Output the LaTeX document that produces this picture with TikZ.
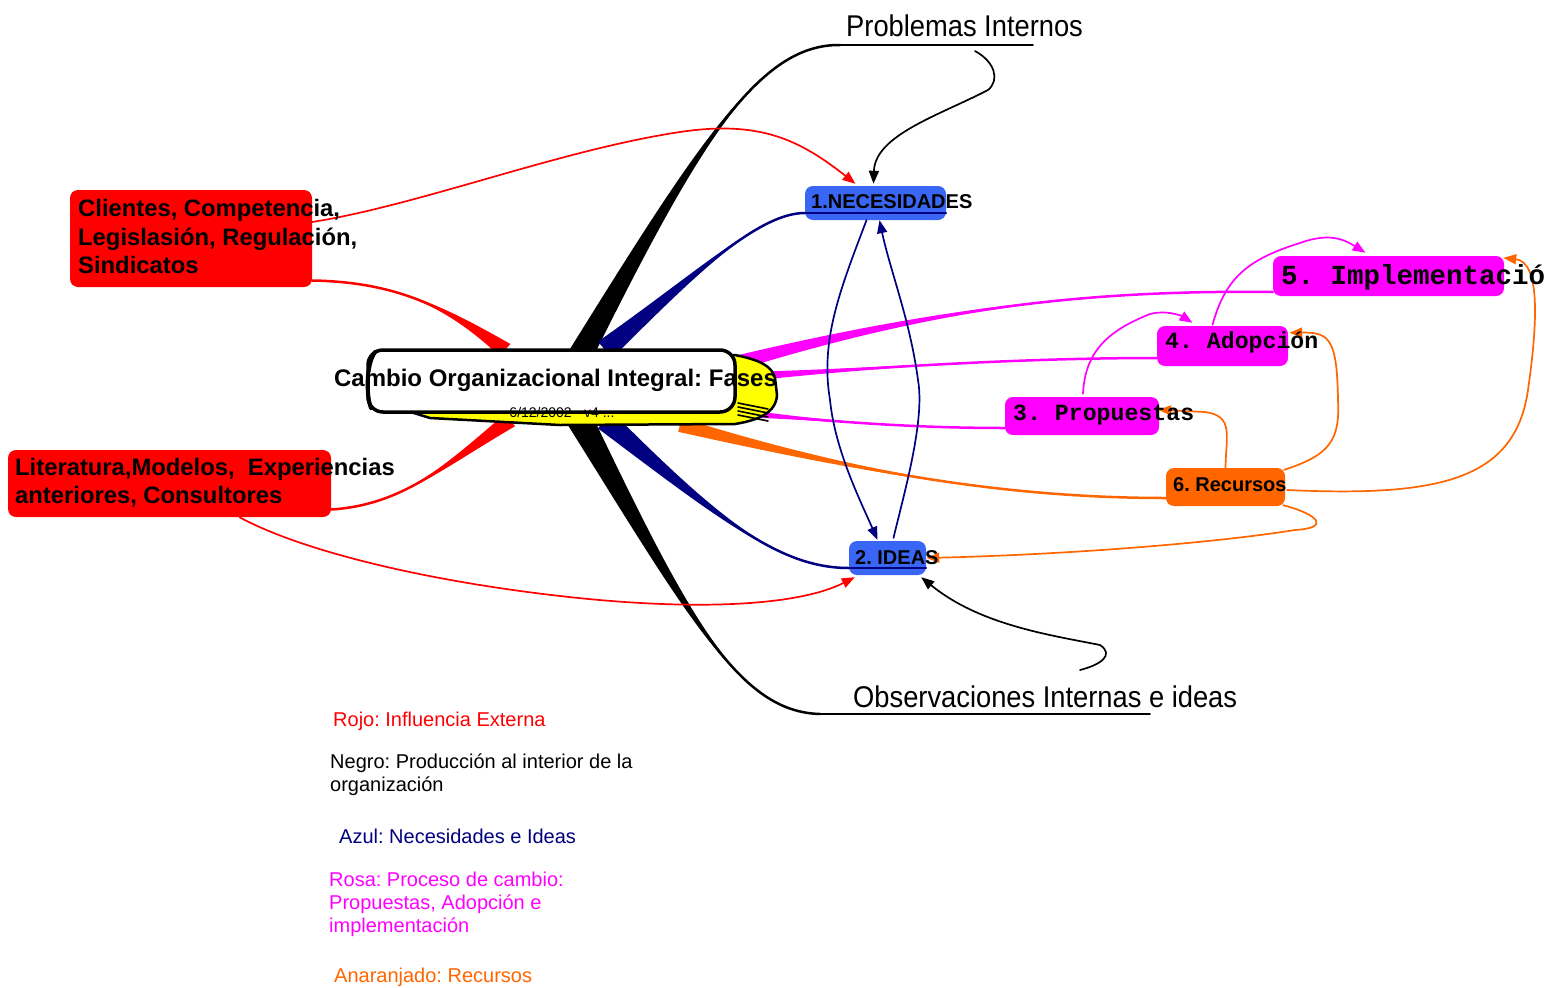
\documentclass[tikz,border=0pt]{standalone}
\usepackage{fontspec}
\setmainfont{Liberation Sans}
\newfontfamily\narrowfont{Liberation Sans}[FakeStretch=0.91]
\newfontfamily\monofont{Liberation Mono}
\usetikzlibrary{calc,arrows.meta}
\frenchspacing

\definecolor{cRed}{HTML}{FF0000}
\definecolor{cNavy}{HTML}{000080}
\definecolor{cBlue}{HTML}{3A66F5}
\definecolor{cPink}{HTML}{FF00FF}
\definecolor{cOrange}{HTML}{FF6600}
\definecolor{cYellow}{HTML}{FFFF00}

\tikzset{
  box/.style={rounded corners=8pt, inner sep=0pt, draw=none},
  lbl/.style={inner sep=0pt, anchor=base west},
  link/.style={line width=1.7pt, -{Triangle[length=13pt,width=10pt]}},
  boldlbl/.style={lbl, font=\bfseries\fontsize{20}{23}\selectfont},
  monolbl/.style={lbl, font=\monofont\bfseries\fontsize{23.2}{26}\selectfont},
  legend/.style={lbl, font=\fontsize{20}{23}\selectfont},
}

% tapered branch: colour, thin end, control 1, control 2, thick end, half-width vector
\newcommand\ribbon[6]{%
  \fill[#1] (#2) .. controls (#3) and (#4) .. ($(#5)+(#6)$) -- ($(#5)-(#6)$) .. controls (#4) and (#3) .. (#2);
  \draw[#1, line width=2.5pt] (#2) .. controls (#3) and (#4) .. (#5);
}

\begin{document}
\begin{tikzpicture}[x=1pt, y=-1pt, line join=round, line cap=round]
\useasboundingbox (0,0) rectangle (1561,988);

% ---- topic boxes ----
\node[box, fill=cRed, minimum width=242pt, minimum height=97pt] (cli) at (191,238.5) {};
\node[box, fill=cRed, minimum width=323pt, minimum height=67pt] (lit) at (169.5,483.5) {};
\node[box, fill=cBlue, minimum width=141pt, minimum height=34pt] (nec) at (875.5,203) {};
\node[box, fill=cBlue, minimum width=77pt, minimum height=34pt] (ide) at (887.5,558) {};
\node[box, fill=cPink, minimum width=154pt, minimum height=38pt] (pro) at (1082,416) {};
\node[box, fill=cPink, minimum width=131pt, minimum height=40pt] (ado) at (1222.5,346) {};
\node[box, fill=cPink, minimum width=231pt, minimum height=40pt] (imp) at (1388.5,276) {};
\node[box, fill=cOrange, minimum width=119pt, minimum height=38pt] (rec) at (1225.5,487) {};

% ---- anchor points of the branches ----
\coordinate (probL) at (840,45);
\coordinate (probR) at (1033,45);
\coordinate (obsL) at (820,714);
\coordinate (obsR) at (1150,714);
\coordinate (hubRedA) at (505,350);
\coordinate (hubRedB) at (510,420);
\coordinate (hubBlkA) at (575,365);
\coordinate (hubBlkB) at (580,420);
\coordinate (hubNavA) at (605,350);
\coordinate (hubNavB) at (605,420);
\coordinate (hubImp) at (740,362);
\coordinate (hubAdo) at (740,377);
\coordinate (hubPro) at (740,413);
\coordinate (hubRec) at (680,425);

% ---- thick branches from the central topic ----
\ribbon{cRed}{$(cli.east)+(0,42)$}{400,282}{450,310}{hubRedA}{5.4,-6}
\ribbon{cRed}{$(lit.east)+(0,26)$}{400,505}{440,470}{hubRedB}{5,6.2}
\ribbon{black}{probL}{760,44}{700,140}{hubBlkA}{11,6.4}
\ribbon{black}{obsL}{740,712}{690,620}{hubBlkB}{11.4,-6.2}
\ribbon{cNavy}{$(nec.west)+(0,10)$}{760,213}{700,270}{hubNavA}{7,8.4}
\ribbon{cNavy}{$(ide.west)+(0,10)$}{780,568}{720,520}{hubNavB}{7,-8.4}
\ribbon{cPink}{$(imp.west)+(0,16)$}{1100,290}{950,305}{hubImp}{1.4,7}
\ribbon{cPink}{$(ado.west)+(0,12)$}{1000,358}{850,370}{hubAdo}{0,5}
\ribbon{cPink}{$(pro.west)+(0,12)$}{900,428}{820,420}{hubPro}{0,4}
\ribbon{cOrange}{$(rec.west)+(0,11)$}{1000,498}{850,470}{hubRec}{-1.8,6.8}

% underlines of the free-standing labels
\draw[black, line width=1.5pt] (probL) -- (probR);
\draw[black, line width=1.5pt] (obsL) -- (obsR);
% underlines of the blue boxes
\draw[cNavy, line width=1.5pt] ($(nec.west)+(0,10)$) -- ($(nec.east)+(0,10)$);
\draw[cNavy, line width=1.5pt] ($(ide.west)+(0,10)$) -- ($(ide.east)+(0,10)$);

% ---- central topic ----
\fill[cYellow, draw=black, line width=2.5pt]
  (372,400) -- (430,418) -- (560,425) -- (735,424)
  .. controls (760,420) and (776,412) .. (777,395) -- (775,378)
  .. controls (772,366) and (760,360) .. (735,355) -- cycle;
\foreach \d in {0,4,8,12}
  \draw[black, line width=1.6pt] (738,{403+\d}) -- (768,{409+\d});
\node[draw=black, fill=white, line width=3.5pt, rounded corners=15pt,
      minimum width=367pt, minimum height=62pt, inner sep=0pt] (hub) at (551.5,381) {};
\draw[black, line width=4pt] (375,352) .. controls (366,365) and (366,395) .. (371,408);
\node[lbl, anchor=base, font=\bfseries\fontsize{24}{28}\selectfont] (hubT) at (555.5,386.5) {Cambio Organizacional Integral: Fases};
\node[lbl, anchor=base, font=\fontsize{14}{16}\selectfont] (hubD) at (562,417) {6/12/2002 - v4 ...};

% ---- thin links ----
\draw[link, cRed] ($(cli.east)+(0,-16.5)$) .. controls (420,205) and (560,150) .. (680,132)
  .. controls (760,120) and (800,140) .. ($(nec.north)+(-20,-2)$);
\draw[link, cRed] ($(lit.south)+(70,0)$) .. controls (300,550) and (420,580) .. (560,596)
  .. controls (700,612) and (800,605) .. ($(ide.south west)+(6,2)$);
\draw[link, black] ($(probL)+(135,6)$) .. controls (995,62) and (1000,80) .. (988,90)
  .. controls (940,115) and (875,135) .. ($(nec.north)+(-2,-2)$);
\draw[link, black] ($(obsL)+(260,-44)$) .. controls (1100,665) and (1115,655) .. (1100,645)
  .. controls (1050,635) and (980,625) .. ($(ide.south east)+(-5,2)$);
\draw[link, cNavy] ($(nec.south)+(-9,0)$) .. controls (840,290) and (820,340) .. (830,400)
  .. controls (835,450) and (860,500) .. ($(ide.north)+(-10,-1)$);
\draw[link, cNavy] ($(ide.north)+(6,-3)$) .. controls (905,490) and (925,420) .. (918,380)
  .. controls (910,320) and (890,270) .. ($(nec.south)+(4,0)$);
\draw[link, cPink] ($(pro.north)+(1,-3)$) .. controls (1085,350) and (1110,330) .. (1150,314)
  .. controls (1165,310) and (1180,315) .. ($(ado.north)+(-30,-3)$);
\draw[link, cPink] ($(ado.north)+(-10,-1)$) .. controls (1225,280) and (1245,260) .. (1300,243)
  .. controls (1330,232) and (1345,240) .. ($(imp.north)+(-23,-3)$);
\draw[link, cOrange] (rec.north) .. controls (1226,435) and (1234,416) .. (1205,412)
  -- ($(pro.north east)+(-1,13)$);
\draw[link, cOrange] ($(rec.north east)+(-1,2)$) .. controls (1330,455) and (1340,440) .. (1338,400)
  .. controls (1337,340) and (1330,332) .. ($(ado.north east)+(1,7)$);
\draw[link, cOrange] ($(rec.east)+(2,3)$) .. controls (1440,497) and (1515,480) .. (1528,390)
  .. controls (1538,320) and (1540,262) .. ($(imp.north east)+(-1,2)$);
\draw[link, cOrange] ($(rec.south east)+(-2,-1)$) .. controls (1320,515) and (1330,528) .. (1295,530)
  .. controls (1200,545) and (1050,555) .. (ide.east);

% ---- box texts ----
\begin{scope}[font=\bfseries\fontsize{23.8}{28}\selectfont]
\node[lbl] (cliA) at (78,216.5) {Clientes, Competencia,};
\node[lbl] (cliB) at (78,245) {Legislasión, Regulación,};
\node[lbl] (cliC) at (78,273.5) {Sindicatos};
\node[lbl] (litA) at (15,475.5) {Literatura,Modelos,\ \ Experiencias};
\node[lbl] (litB) at (15,503.5) {anteriores, Consultores};
\end{scope}
\node[boldlbl] (necT) at (811,208) {1.NECESIDADES};
\node[boldlbl] (ideT) at (855,564) {2. IDEAS};
\node[boldlbl] (recT) at (1173,491) {6. Recursos};
\node[monolbl] (proT) at (1013,420) {3. Propuestas};
\node[monolbl] (adoT) at (1165,348.5) {4. Adopción};
\node[lbl, font=\monofont\bfseries\fontsize{27.5}{30}\selectfont] (impT) at (1281,284) {5. Implementació};

% ---- free-standing labels ----
\node[lbl, font=\narrowfont\fontsize{30}{34}\selectfont] (probT) at (846,36) {Problemas Internos};
\node[lbl, font=\narrowfont\fontsize{30}{34}\selectfont] (obsT) at (853,707) {Observaciones Internas e ideas};

% ---- colour key ----
\node[legend, text=cRed] (kRed) at (333,726) {Rojo: Influencia Externa};
\node[legend, text=black] (kBlkA) at (330,768) {Negro: Producción al interior de la};
\node[legend, text=black] (kBlkB) at (330,791) {organización};
\node[legend, text=cNavy] (kNav) at (339,843) {Azul: Necesidades e Ideas};
\node[legend, text=cPink] (kPinkA) at (329,886) {Rosa: Proceso de cambio:};
\node[legend, text=cPink] (kPinkB) at (329,909) {Propuestas, Adopción e};
\node[legend, text=cPink] (kPinkC) at (329,932) {implementación};
\node[legend, text=cOrange] (kOra) at (334,982) {Anaranjado: Recursos};
\end{tikzpicture}
\end{document}
